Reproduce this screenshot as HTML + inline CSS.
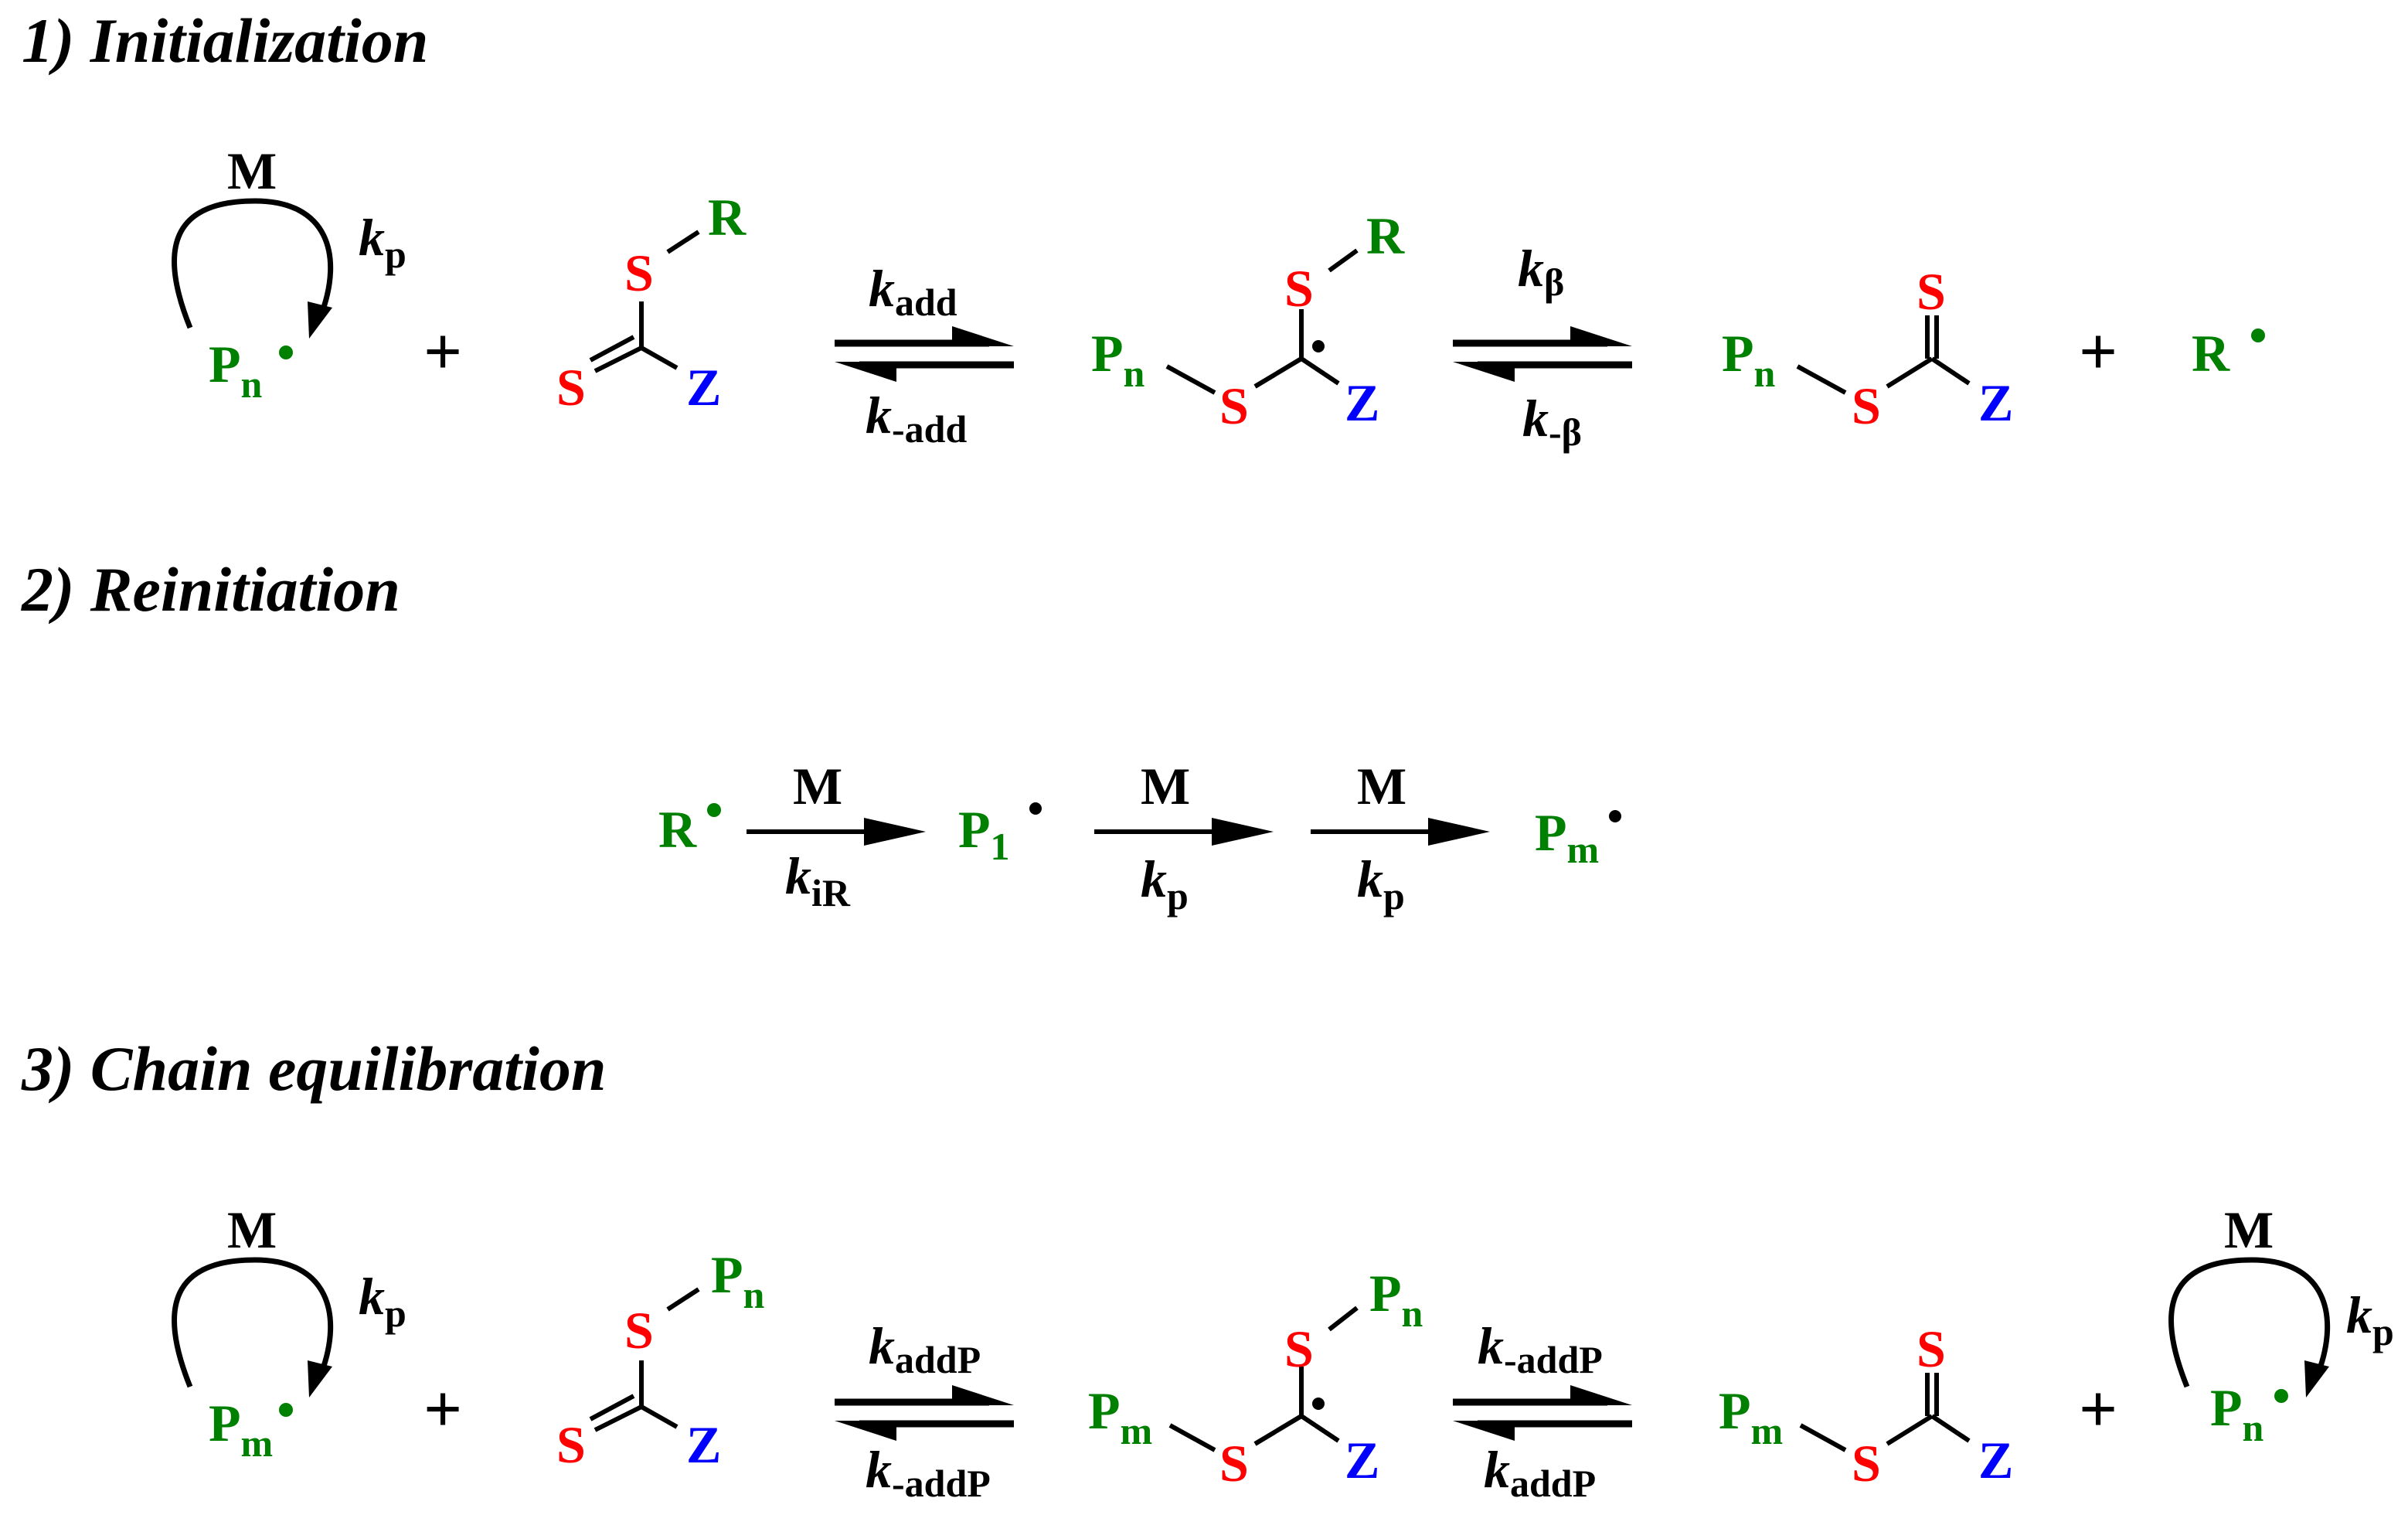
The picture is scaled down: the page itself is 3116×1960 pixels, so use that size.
<!DOCTYPE html>
<html><head><meta charset="utf-8"><style>
html,body{margin:0;padding:0;background:#fff;}
svg{display:block;}
text{font-family:"Liberation Serif",serif;font-weight:bold;}
.t{font-style:italic;font-size:41px;fill:#000;}
.g{fill:#008000;font-size:34px;}
.r{fill:#ff0000;font-size:34px;}
.b{fill:#0000ff;font-size:34px;}
.k{fill:#000;font-size:34px;}
.p{fill:#000;font-size:44px;}
.s{font-size:25px;}
.i{font-style:italic;}
line.bd{stroke:#000;stroke-width:3;}
</style></head><body>
<svg width="3116" height="1960" viewBox="0 0 1558 980" xmlns="http://www.w3.org/2000/svg">
<defs>
<g id="circ">
  <path d="M123,212 C102,160 112,130 165,130 C212,130 222,165 208,203" fill="none" stroke="#000" stroke-width="3.5"/>
  <polygon points="199,195 215,199 200,219" fill="#000"/>
</g>
<g id="eq">
  <line x1="0" y1="222" x2="100" y2="222" stroke="#000" stroke-width="4.5"/>
  <polygon points="76,211 116,224 76,224" fill="#000"/>
  <line x1="16" y1="236" x2="116" y2="236" stroke="#000" stroke-width="4.5"/>
  <polygon points="40,247 0,234 40,234" fill="#000"/>
</g>
<g id="fw">
  <line x1="0" y1="0" x2="100" y2="0" stroke="#000" stroke-width="3"/>
  <polygon points="76,-9 116,0 76,9" fill="#000"/>
</g>
</defs>

<!-- Row 1 -->
<text class="t" x="14" y="40">1) Initialization</text>
<use href="#circ"/>
<text class="k" x="147" y="122">M</text>
<text class="k" x="232" y="165"><tspan class="i">k</tspan><tspan class="s" dy="8">p</tspan></text>
<text class="g" x="135" y="247">P<tspan class="s" dy="10">n</tspan></text>
<circle cx="185" cy="228" r="4.5" fill="#008000"/>
<text class="p" x="274" y="242">+</text>

<text class="r" x="404" y="188">S</text>
<line class="bd" x1="432" y1="163" x2="452" y2="150"/>
<text class="g" x="458" y="152">R</text>
<line class="bd" x1="415" y1="195" x2="415" y2="225"/>
<line class="bd" x1="415" y1="225" x2="438" y2="238"/>
<line class="bd" x1="415" y1="225" x2="385" y2="240"/>
<line class="bd" x1="410" y1="218" x2="382" y2="233"/>
<text class="r" x="360" y="262">S</text>
<text class="b" x="444" y="262">Z</text>

<use href="#eq" transform="translate(540,0)"/>
<text class="k" x="562" y="198"><tspan class="i">k</tspan><tspan class="s" dy="6">add</tspan></text>
<text class="k" x="560" y="280"><tspan class="i">k</tspan><tspan class="s" dy="6">-add</tspan></text>

<text class="g" x="706" y="240">P<tspan class="s" dy="10">n</tspan></text>
<line class="bd" x1="755" y1="237" x2="786" y2="254"/>
<text class="r" x="789" y="274">S</text>
<line class="bd" x1="812" y1="250" x2="842" y2="232"/>
<line class="bd" x1="842" y1="232" x2="866" y2="248"/>
<line class="bd" x1="842" y1="200" x2="842" y2="232"/>
<circle cx="853" cy="224" r="4" fill="#000"/>
<text class="r" x="831" y="198">S</text>
<line class="bd" x1="860" y1="175" x2="878" y2="162"/>
<text class="g" x="884" y="164">R</text>
<text class="b" x="870" y="272">Z</text>

<use href="#eq" transform="translate(940,0)"/>
<text class="k" x="982" y="185"><tspan class="i">k</tspan><tspan class="s" dy="6">β</tspan></text>
<text class="k" x="985" y="282"><tspan class="i">k</tspan><tspan class="s" dy="6">-β</tspan></text>

<text class="g" x="1114" y="240">P<tspan class="s" dy="10">n</tspan></text>
<line class="bd" x1="1163" y1="237" x2="1194" y2="254"/>
<text class="r" x="1198" y="274">S</text>
<line class="bd" x1="1221" y1="250" x2="1250" y2="232"/>
<line class="bd" x1="1250" y1="232" x2="1274" y2="248"/>
<line class="bd" x1="1247" y1="204" x2="1247" y2="232"/>
<line class="bd" x1="1253" y1="204" x2="1253" y2="232"/>
<text class="r" x="1240" y="200">S</text>
<text class="b" x="1280" y="272">Z</text>
<text class="p" x="1345" y="242">+</text>
<text class="g" x="1418" y="240">R</text>
<circle cx="1461" cy="217" r="4.5" fill="#008000"/>

<!-- Row 2 -->
<text class="t" x="14" y="395">2) Reinitiation</text>
<text class="g" x="426" y="548">R</text>
<circle cx="462" cy="524" r="4.5" fill="#008000"/>
<use href="#fw" transform="translate(483,538)"/>
<text class="k" x="513" y="520">M</text>
<text class="k" x="508" y="578"><tspan class="i">k</tspan><tspan class="s" dy="8">iR</tspan></text>
<text class="g" x="620" y="548">P<tspan class="s" dy="8">1</tspan></text>
<circle cx="670" cy="523" r="4" fill="#000"/>
<use href="#fw" transform="translate(708,538)"/>
<text class="k" x="738" y="520">M</text>
<text class="k" x="738" y="580"><tspan class="i">k</tspan><tspan class="s" dy="8">p</tspan></text>
<use href="#fw" transform="translate(848,538)"/>
<text class="k" x="878" y="520">M</text>
<text class="k" x="878" y="580"><tspan class="i">k</tspan><tspan class="s" dy="8">p</tspan></text>
<text class="g" x="993" y="550">P<tspan class="s" dy="8">m</tspan></text>
<circle cx="1045" cy="528" r="4" fill="#000"/>

<!-- Row 3 -->
<text class="t" x="14" y="705">3) Chain equilibration</text>
<use href="#circ" transform="translate(0,685)"/>
<text class="k" x="147" y="807">M</text>
<text class="k" x="232" y="850"><tspan class="i">k</tspan><tspan class="s" dy="8">p</tspan></text>
<text class="g" x="135" y="932">P<tspan class="s" dy="10">m</tspan></text>
<circle cx="185" cy="912" r="4.5" fill="#008000"/>
<text class="p" x="274" y="926">+</text>

<text class="r" x="404" y="872">S</text>
<line class="bd" x1="432" y1="847" x2="452" y2="834"/>
<text class="g" x="460" y="836">P<tspan class="s" dy="10">n</tspan></text>
<line class="bd" x1="415" y1="880" x2="415" y2="910"/>
<line class="bd" x1="415" y1="910" x2="438" y2="923"/>
<line class="bd" x1="415" y1="910" x2="385" y2="925"/>
<line class="bd" x1="410" y1="903" x2="382" y2="918"/>
<text class="r" x="360" y="946">S</text>
<text class="b" x="444" y="946">Z</text>

<use href="#eq" transform="translate(540,685)"/>
<text class="k" x="562" y="882"><tspan class="i">k</tspan><tspan class="s" dy="6">addP</tspan></text>
<text class="k" x="560" y="962"><tspan class="i">k</tspan><tspan class="s" dy="6">-addP</tspan></text>

<text class="g" x="704" y="924">P<tspan class="s" dy="10">m</tspan></text>
<line class="bd" x1="757" y1="922" x2="786" y2="938"/>
<text class="r" x="789" y="958">S</text>
<line class="bd" x1="812" y1="934" x2="842" y2="916"/>
<line class="bd" x1="842" y1="916" x2="866" y2="932"/>
<line class="bd" x1="842" y1="884" x2="842" y2="916"/>
<circle cx="853" cy="908" r="4" fill="#000"/>
<text class="r" x="831" y="884">S</text>
<line class="bd" x1="860" y1="860" x2="878" y2="846"/>
<text class="g" x="886" y="848">P<tspan class="s" dy="10">n</tspan></text>
<text class="b" x="870" y="956">Z</text>

<use href="#eq" transform="translate(940,685)"/>
<text class="k" x="956" y="882"><tspan class="i">k</tspan><tspan class="s" dy="6">-addP</tspan></text>
<text class="k" x="960" y="962"><tspan class="i">k</tspan><tspan class="s" dy="6">addP</tspan></text>

<text class="g" x="1112" y="924">P<tspan class="s" dy="10">m</tspan></text>
<line class="bd" x1="1165" y1="922" x2="1194" y2="938"/>
<text class="r" x="1198" y="958">S</text>
<line class="bd" x1="1221" y1="934" x2="1250" y2="916"/>
<line class="bd" x1="1250" y1="916" x2="1274" y2="932"/>
<line class="bd" x1="1247" y1="888" x2="1247" y2="916"/>
<line class="bd" x1="1253" y1="888" x2="1253" y2="916"/>
<text class="r" x="1240" y="884">S</text>
<text class="b" x="1280" y="956">Z</text>
<text class="p" x="1345" y="926">+</text>

<use href="#circ" transform="translate(1292,685)"/>
<text class="k" x="1439" y="807">M</text>
<text class="k" x="1518" y="862"><tspan class="i">k</tspan><tspan class="s" dy="8">p</tspan></text>
<text class="g" x="1430" y="922">P<tspan class="s" dy="10">n</tspan></text>
<circle cx="1476" cy="903" r="4.5" fill="#008000"/>
</svg>
</body></html>
